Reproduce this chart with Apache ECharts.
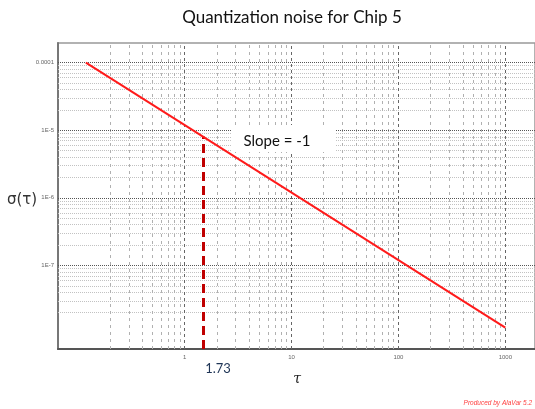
<!DOCTYPE html>
<html><head><meta charset="utf-8">
<script src="https://cdn.jsdelivr.net/npm/echarts@6/dist/echarts.min.js"></script>
<style>html,body{margin:0;padding:0;background:#fff}#c{width:535px;height:409px}</style>
</head><body><div id="c"></div>
<script>
// ---- data ----
const titleText = 'Quantization noise for Chip 5';
const lineTau = [0.119, 1000];          // tau at line ends
const lineSigma = [1e-4, 1.2e-8];       // sigma at line ends
const markTau = 1.48;                   // dashed marker position (as drawn)
const markSigmaTop = 8.1e-6;            // where dashed marker meets the line
const markLabel = '1.73';
const slopeText = 'Slope = -1';
const xTickValues = [1, 10, 100, 1000];
const xTickLabels = ['1', '10', '100', '1000'];
const yTickValues = [1e-4, 1e-5, 1e-6, 1e-7];
const yTickLabels = ['0.0001', '1E-5', '1E-6', '1E-7'];
const xMinorDecades = [0.1, 1, 10, 100];
const yMinorDecades = [1e-8, 1e-7, 1e-6, 1e-5];
const minorMult = [2, 3, 4, 5, 6, 7, 8, 9];
const xMin = 0.0653, xMax = 1896;
const yMin = 5.8e-9, yMax = 1.95e-4;

function fmt(values, labels) {
  return function (v) {
    for (let i = 0; i < values.length; i++) {
      if (Math.abs(Math.log10(v) - Math.log10(values[i])) < 0.01) return labels[i];
    }
    return '';
  };
}
const xMinor = [], yMinor = [];
xMinorDecades.forEach(d => minorMult.forEach(m => { const v = d * m; if (v < xMax) xMinor.push(v); }));
yMinorDecades.forEach(d => minorMult.forEach(m => { const v = d * m; if (v < yMax) yMinor.push(v); }));

const chart = echarts.init(document.getElementById('c'), null, {renderer: 'canvas'});
const mlH = (arr, style, z) => ({
  silent: true, symbol: ['none', 'none'], animation: false, z: z,
  label: {show: false}, lineStyle: style,
  data: arr.map(v => [{coord: [xMin, v]}, {coord: [xMax, v]}])
});
const mlV = (arr, style, z) => ({
  silent: true, symbol: ['none', 'none'], animation: false, z: z,
  label: {show: false}, lineStyle: style,
  data: arr.map(v => [{coord: [v, yMin]}, {coord: [v, yMax]}])
});
chart.setOption({
  backgroundColor: '#fff',
  animation: false,
  grid: {left: 58, right: -5, top: 43, bottom: 60, show: true, borderColor: '#999', borderWidth: 1.5, backgroundColor: '#fff'},
  xAxis: {type: 'log', min: xMin, max: xMax, logBase: 10,
    axisLine: {show: true, lineStyle: {color: '#555', width: 2}},
    axisTick: {show: false}, splitLine: {show: false}, minorSplitLine: {show: false},
    axisLabel: {formatter: fmt(xTickValues, xTickLabels), showMinLabel: false, showMaxLabel: false,
      fontFamily: 'Liberation Sans Narrow, Liberation Sans', fontSize: 6, color: '#666', margin: 5}},
  yAxis: {type: 'log', min: yMin, max: yMax, logBase: 10,
    axisLine: {show: true, lineStyle: {color: '#777', width: 2}},
    axisTick: {show: false}, splitLine: {show: false}, minorSplitLine: {show: false},
    axisLabel: {formatter: fmt(yTickValues, yTickLabels), showMinLabel: false, showMaxLabel: false,
      fontFamily: 'Liberation Sans Narrow, Liberation Sans', fontSize: 6, color: '#666', margin: 4}},
  series: [
    {type: 'line', data: [[xMin, yMin]], showSymbol: false, lineStyle: {width: 0}, z: 1, silent: true,
      markLine: mlH(yMinor, {color: '#c2c2c2', width: 1, type: [1, 1]}, 1)},
    {type: 'line', data: [[xMin, yMin]], showSymbol: false, lineStyle: {width: 0}, z: 1, silent: true,
      markLine: mlV(xMinor, {color: '#b0b0b0', width: 1, type: [3, 4]}, 1)},
    {type: 'line', data: [[xMin, yMin]], showSymbol: false, lineStyle: {width: 0}, z: 2, silent: true,
      markLine: mlH(yTickValues, {color: '#555', width: 1, type: [1, 1]}, 2)},
    {type: 'line', data: [[xMin, yMin]], showSymbol: false, lineStyle: {width: 0}, z: 2, silent: true,
      markLine: mlV(xTickValues, {color: '#666', width: 1, type: [3, 3]}, 2)},
    {type: 'line', z: 8, showSymbol: false, silent: true,
      data: lineTau.map((t, i) => [t, lineSigma[i]]),
      lineStyle: {color: '#ff1a1a', width: 2},
      markLine: {silent: true, symbol: ['none', 'none'], animation: false, label: {show: false}, z: 8,
        lineStyle: {color: '#c00000', width: 3, type: [9, 5]},
        data: [[{coord: [markTau, yMin]}, {coord: [markTau, markSigmaTop]}]]}}
  ],
  graphic: [
    {type: 'text', x: 292, y: 18, z: 11, style: {text: titleText, fontFamily: 'Lato', fontSize: 17,
      fill: '#111', align: 'center', verticalAlign: 'middle'}},
    {type: 'rect', shape: {x: 232, y: 125, width: 103, height: 27}, style: {fill: '#fff'}, z: 6},
    {type: 'text', x: 277, y: 141, z: 11, style: {text: slopeText, fontFamily: 'Lato', fontSize: 15,
      fill: '#111', align: 'center', verticalAlign: 'middle'}},
    {type: 'text', x: 218, y: 369, z: 11, style: {text: markLabel, fontFamily: 'Lato', fontSize: 13,
      fill: '#1f3556', align: 'center', verticalAlign: 'middle'}},
    {type: 'text', x: 22, y: 200, z: 11, style: {text: 'σ(τ)', fontFamily: 'DejaVu Sans', fontSize: 15,
      fill: '#333', align: 'center', verticalAlign: 'middle'}},
    {type: 'text', x: 297, y: 379, z: 11, style: {text: 'τ', fontFamily: 'DejaVu Serif', fontStyle: 'italic', fontSize: 14,
      fill: '#222', align: 'center', verticalAlign: 'middle'}},
    {type: 'text', x: 532, y: 403, z: 11, style: {text: 'Produced by AlaVar 5.2', fontFamily: 'Liberation Sans Narrow, Liberation Sans',
      fontStyle: 'italic', fontSize: 6.5, fill: '#ff4040', align: 'right', verticalAlign: 'middle'}}
  ]
});
</script></body></html>
